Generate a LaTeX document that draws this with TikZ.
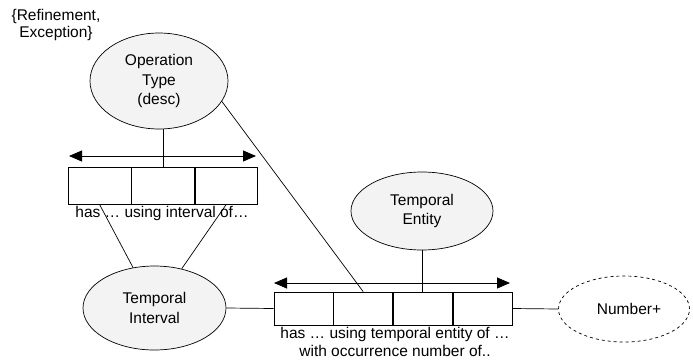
\documentclass[tikz,border=0pt]{standalone}
\usepackage{fontspec}
\setmainfont{Liberation Sans}
\usetikzlibrary{shapes.geometric,arrows.meta}

\definecolor{ovalfill}{RGB}{243,243,243}

\tikzset{
  txt/.style={font=\fontsize{15.5}{19}\selectfont, align=center, inner sep=0pt},
  concept/.style={ellipse, draw, fill=ovalfill, line width=0.7pt, inner sep=0pt,
    font=\fontsize{15.5}{19.5}\selectfont, align=center},
  value/.style={concept, fill=white, dashed},
  cell/.style={rectangle, draw, line width=0.7pt, inner sep=0pt},
  link/.style={line width=0.7pt},
  dir/.style={line width=0.9pt, {Triangle[length=13pt,width=11pt]}-{Triangle[length=13pt,width=11pt]}}
}

\begin{document}
\begin{tikzpicture}[x=1pt,y=-1pt]
\useasboundingbox (0,0) rectangle (693,359);

% category note
\node[txt, font=\fontsize{15.5}{17}\selectfont] (cat) at (56,25) {\{Refinement,\\Exception\}};

% concepts
\node[concept, minimum width=138pt, minimum height=96pt] (op) at (159,81) {Operation\\Type\\(desc)};
\node[concept, minimum width=143pt, minimum height=84pt] (ti) at (154.5,308) {Temporal\\Interval};
\node[concept, minimum width=142pt, minimum height=78pt] (te) at (422,211) {Temporal\\Entity};
\node[value, minimum width=131pt, minimum height=66pt] (num) at (624,309) {\hspace{10pt}Number+};

% first relation: three slots
\node[cell, minimum width=62.7pt, minimum height=37pt] (b1a) at (99.5,185.5) {};
\node[cell, minimum width=62.7pt, minimum height=37pt, anchor=west] (b1b) at (b1a.east) {};
\node[cell, minimum width=62.7pt, minimum height=37pt, anchor=west] (b1c) at (b1b.east) {};
\coordinate (a1l) at (69,156);
\coordinate (a1r) at (256,156);
\draw[dir] (a1l) -- (a1r);
\node[txt] (l1) at (162,213) {has … using interval of…};

% second relation: four slots
\node[cell, minimum width=59pt, minimum height=33pt] (b2a) at (303.5,308.5) {};
\node[cell, minimum width=59pt, minimum height=33pt, anchor=west] (b2b) at (b2a.east) {};
\node[cell, minimum width=59pt, minimum height=33pt, anchor=west] (b2c) at (b2b.east) {};
\node[cell, minimum width=59pt, minimum height=33pt, anchor=west] (b2d) at (b2c.east) {};
\coordinate (a2l) at (274,283);
\coordinate (a2r) at (510,283);
\draw[dir] (a2l) -- (a2r);
\node[txt, font=\fontsize{15.5}{18}\selectfont] (l2) at (395,341.5) {has … using temporal entity of …\\with occurrence number of..};

% connectors
\draw[link] (b1b.north) -- (b1b.north |- op.south);
\draw[link] (b1a.south) -- (ti);
\draw[link] (b1c.south) -- (ti);
\draw[link] (op.-18) -- (b2b.north);
\draw[link] (ti.east) -- (b2a.west);
\draw[link] (te.south) -- (te.south |- b2c.north);
\draw[link] (b2d.east) -- (num.west);
\end{tikzpicture}
\end{document}
